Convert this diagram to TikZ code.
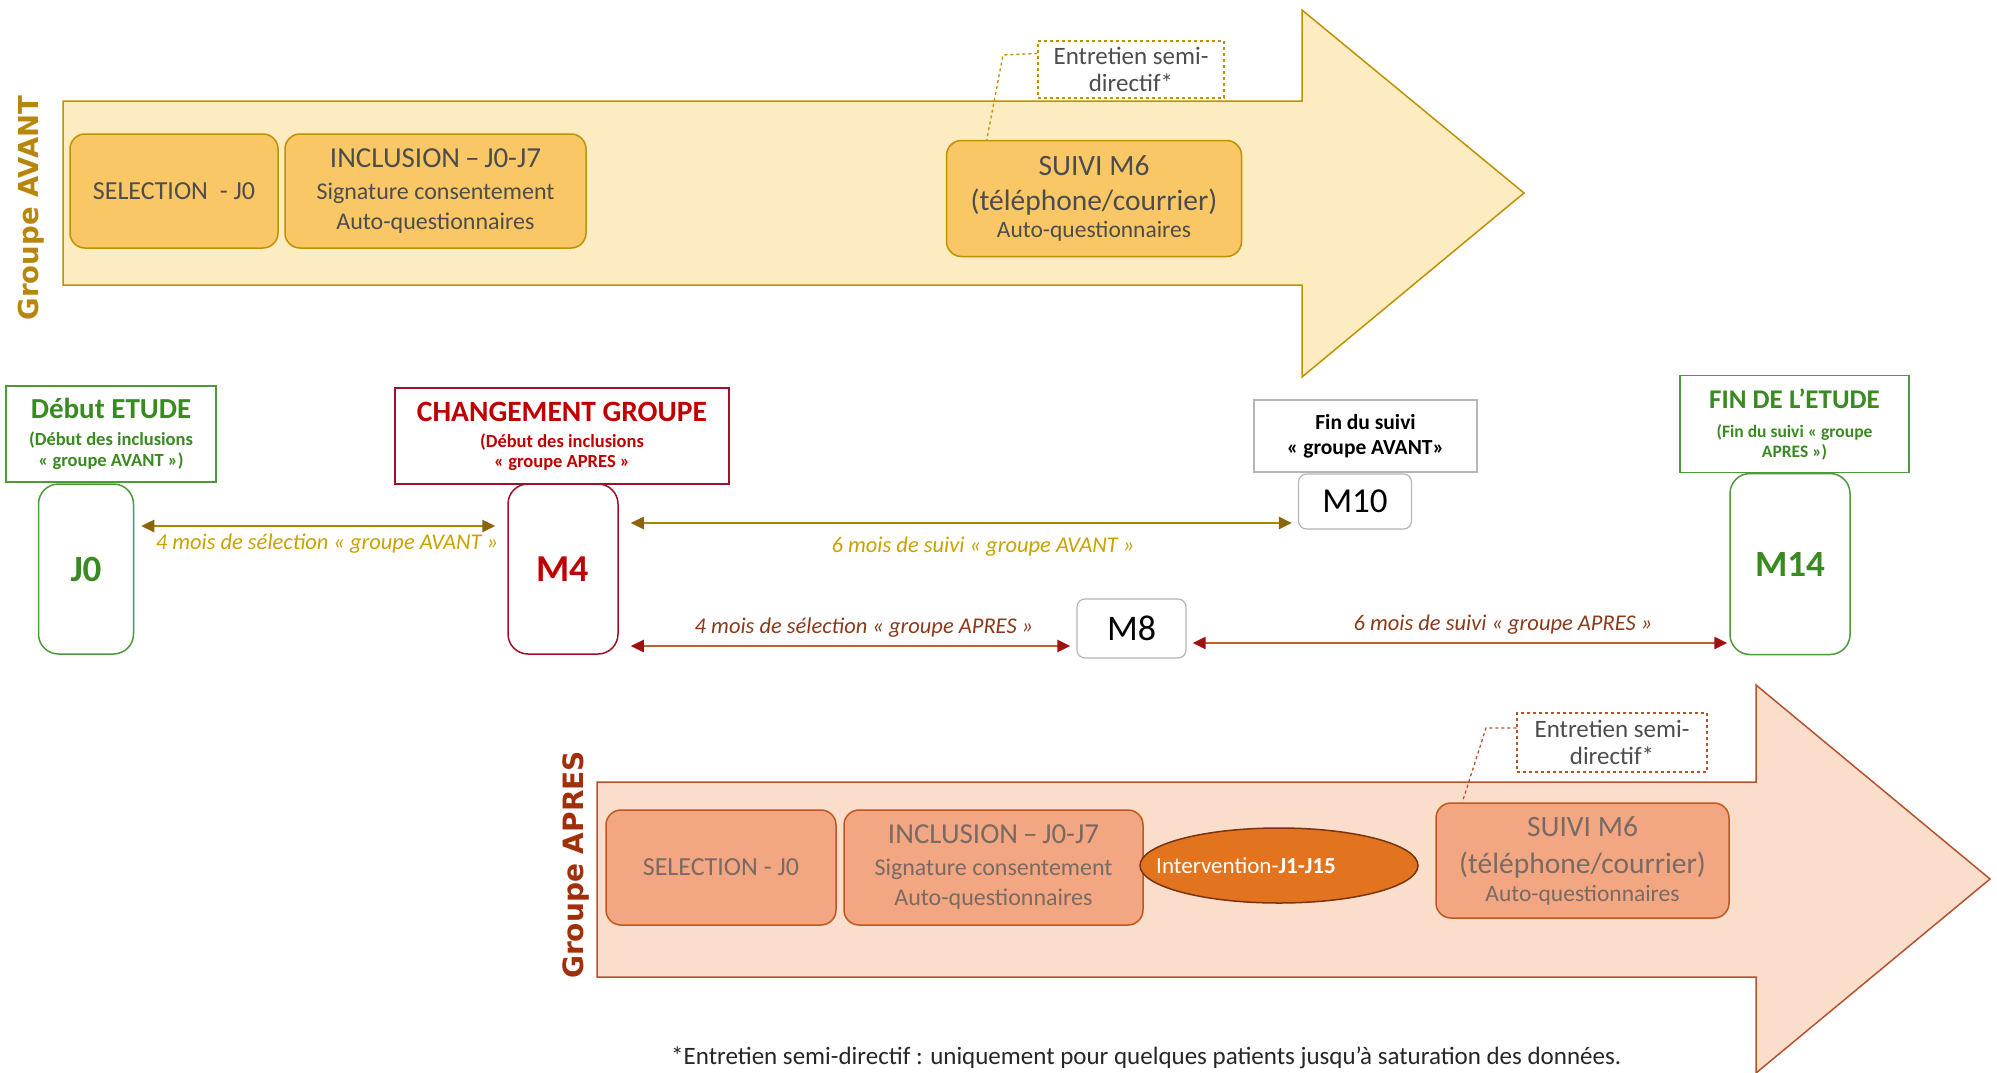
\documentclass[tikz,border=0pt]{standalone}
\usepackage{fontspec}
\setmainfont{Carlito}
\newfontfamily\grpfont{DejaVu Sans}
\usetikzlibrary{arrows.meta,shapes.geometric,calc}
\definecolor{avfill}{HTML}{FDEBC2}
\definecolor{avline}{HTML}{BF9000}
\definecolor{avbox}{HTML}{F9C766}
\definecolor{avtext}{HTML}{B8860B}
\definecolor{avlabel}{HTML}{C9A200}
\definecolor{avarr}{HTML}{A88600}
\definecolor{avtip}{HTML}{8B6508}
\definecolor{apfill}{HTML}{FBDDCC}
\definecolor{apline}{HTML}{B5522B}
\definecolor{apbox}{HTML}{F2A681}
\definecolor{apboxline}{HTML}{C0581E}
\definecolor{aptext}{HTML}{A0300A}
\definecolor{aplabel}{HTML}{8B3A1A}
\definecolor{aparr}{HTML}{C0602E}
\definecolor{aptip}{HTML}{A01010}
\definecolor{ellfill}{HTML}{E2741F}
\definecolor{ellline}{HTML}{7A3510}
\definecolor{grn}{HTML}{3A8A22}
\definecolor{grnline}{HTML}{4E9A3A}
\definecolor{dred}{HTML}{C00000}
\definecolor{dredline}{HTML}{A0102A}
\definecolor{txtdark}{HTML}{4D4D4D}
\definecolor{txtap}{HTML}{7A6A64}
\definecolor{lgray}{HTML}{B5B5B5}
\tikzset{
  avbigbox/.style={draw=avline, fill=avbox, line width=1.5pt, rounded corners=15pt, align=center, text=txtdark, inner sep=0pt},
  apbigbox/.style={draw=apboxline, fill=apbox, line width=1.5pt, rounded corners=15pt, align=center, text=txtap, inner sep=0pt},
  entbox/.style={dashed, line width=1.3pt, fill=white, align=center, text=txtdark, inner sep=0pt, minimum height=57pt},
  tallbox/.style={rounded corners=20pt, line width=1.5pt, fill=white, inner sep=0pt},
  milebox/.style={draw=lgray, rounded corners=8pt, line width=1.2pt, fill=white, inner sep=0pt, text=black},
  hdrbox/.style={line width=1.5pt, fill=white, align=center, inner sep=0pt},
  avarrow/.style={draw=avarr, line width=2.5pt, {Triangle[length=13pt,width=12pt,color=avtip]}-{Triangle[length=13pt,width=12pt,color=avtip]}},
  aparrow/.style={draw=aparr, line width=2.5pt, {Triangle[length=13pt,width=12pt,color=aptip]}-{Triangle[length=13pt,width=12pt,color=aptip]}},
  avlbl/.style={text=avlabel, font=\fontsize{22.5}{26}\selectfont\itshape, inner sep=0pt},
  aplbl/.style={text=aplabel, font=\fontsize{22.5}{26}\selectfont\itshape, inner sep=0pt},
}
\begin{document}
\begin{tikzpicture}[x=1pt,y=-1pt]
\useasboundingbox (0,0) rectangle (1997,1073);
\fill[white] (0,0) rectangle (1997,1073);

% ---------- Groupe AVANT arrow ----------
\draw[avline, fill=avfill, line width=1.5pt, line join=miter]
  (63,101) -- (1302,101) -- (1302,10) -- (1524,193) -- (1302,377) -- (1302,285) -- (63,285) -- cycle;
\node[rotate=90, text=avtext, font=\grpfont\bfseries\fontsize{27.5}{30}\selectfont] (gavant) at (31,208) {Groupe AVANT};

\node[avbigbox, minimum width=208pt, minimum height=114pt, font=\fontsize{26}{30}\selectfont] (sel1) at (174,191) {SELECTION\ \ - J0};
\node[avbigbox, minimum width=301pt, minimum height=114pt, font=\fontsize{24}{30}\selectfont] (incl1) at (435.5,191)
  {{\fontsize{29}{30}\selectfont INCLUSION\,–\,J0-J7}\\[2pt] Signature consentement\\ Auto-questionnaires};
\node[avbigbox, minimum width=295pt, minimum height=116pt, font=\fontsize{23.5}{27}\selectfont] (suivi1) at (1094,198.5)
  {{\fontsize{29.5}{30}\selectfont SUIVI M6}\\[8pt]{\fontsize{29.5}{30}\selectfont (téléphone/courrier)}\\ Auto-questionnaires};
\node[entbox, draw=avline, minimum width=186pt, font=\fontsize{25}{27}\selectfont] (ent1) at (1131,69.5) {Entretien semi-\\directif*};
\coordinate (bend1) at (1003,55);
\draw[avline, dashed, line width=1.3pt] ([yshift=16pt]ent1.west) -- (bend1) -- ($(suivi1.north west)+(41,0)$);

% ---------- Milestones ----------
\node[hdrbox, draw=grnline, text=grn, minimum width=210pt, minimum height=96pt, font=\fontsize{18.5}{21}\selectfont\bfseries] (debut) at (111,434)
  {{\fontsize{29}{30}\selectfont Début ETUDE}\\[6pt](Début des inclusions\\« groupe AVANT »)};
\node[tallbox, draw=grnline, text=grn, minimum width=95pt, minimum height=170pt, font=\fontsize{37}{40}\selectfont\bfseries] (J0) at (86,569) {J0};

\node[hdrbox, draw=dredline, text=dred, minimum width=334pt, minimum height=96pt, font=\fontsize{18.5}{20}\selectfont\bfseries] (chg) at (562,436)
  {{\fontsize{29.5}{30}\selectfont CHANGEMENT GROUPE}\\[6pt](Début des inclusions\\« groupe APRES »};
\node[tallbox, draw=dredline, text=dred, minimum width=110pt, minimum height=170pt, font=\fontsize{38}{40}\selectfont\bfseries] (M4) at (563,569) {M4};

\node[hdrbox, draw=lgray, text=black, minimum width=223pt, minimum height=72pt, font=\fontsize{21.5}{25}\selectfont\bfseries] (fin1) at (1365.5,436)
  {Fin du suivi\\« groupe AVANT»};
\node[milebox, minimum width=113pt, minimum height=55pt, font=\fontsize{35}{38}\selectfont] (M10) at (1355,501.5) {M10};

\node[hdrbox, draw=grnline, text=grn, minimum width=229pt, minimum height=97pt, font=\fontsize{17.5}{20}\selectfont\bfseries] (finet) at (1794.5,424)
  {{\fontsize{27}{30}\selectfont FIN DE L’ETUDE}\\[9pt](Fin du suivi « groupe\\APRES »)};
\node[tallbox, draw=grnline, text=grn, minimum width=120pt, minimum height=181pt, font=\fontsize{37}{40}\selectfont\bfseries] (M14) at (1790,564) {M14};

\node[milebox, minimum width=109pt, minimum height=59pt, font=\fontsize{36}{38}\selectfont] (M8) at (1131.5,628.5) {M8};

% ---------- Period arrows ----------
\draw[avarrow] ($(J0.east |- 0,526)+(7,0)$) -- ($(M4.west |- 0,526)+(-12,0)$);
\node[avlbl] (lab1) at (327,544) {4 mois de sélection « groupe AVANT »};
\draw[avarrow] ($(M4.east |- 0,523)+(12,0)$) -- ($(M10.west |- 0,523)+(-6,0)$);
\node[avlbl] (lab2) at (983,547) {6 mois de suivi « groupe AVANT »};
\draw[aparrow] ($(M4.east |- 0,646)+(12,0)$) -- ($(M8.west |- 0,646)+(-6,0)$);
\node[aplbl] (lab3) at (864,628) {4 mois de sélection « groupe APRES »};
\draw[aparrow] ($(M8.east |- 0,643)+(6,0)$) -- ($(M14.west |- 0,643)+(-2,0)$);
\node[aplbl] (lab4) at (1503,625) {6 mois de suivi « groupe APRES »};

% ---------- Groupe APRES arrow ----------
\draw[apline, fill=apfill, line width=1.5pt, line join=miter]
  (597,782) -- (1756,782) -- (1756,685) -- (1990,879) -- (1756,1073) -- (1756,977) -- (597,977) -- cycle;
\node[rotate=90, text=aptext, font=\grpfont\bfseries\fontsize{28}{30}\selectfont] (gapres) at (576,865) {Groupe APRES};

\node[apbigbox, minimum width=230pt, minimum height=115pt, font=\fontsize{26}{30}\selectfont] (sel2) at (721,867.5) {SELECTION - J0};
\node[apbigbox, minimum width=299pt, minimum height=115pt, font=\fontsize{24}{30}\selectfont] (incl2) at (993.5,867.5)
  {{\fontsize{29}{30}\selectfont INCLUSION\,–\,J0-J7}\\[2pt] Signature consentement\\ Auto-questionnaires};
\node[ellipse, draw=ellline, fill=ellfill, line width=1.5pt, minimum width=278pt, minimum height=75pt, inner sep=0pt] (interv) at (1279,865.5) {};
\node[text=white, font=\fontsize{23}{26}\selectfont, inner sep=0pt] (intervtxt) at ([xshift=-33pt]interv.center) {Intervention-\textbf{J1-J15}};
\node[apbigbox, minimum width=293pt, minimum height=115pt, font=\fontsize{23.5}{28}\selectfont] (suivi2) at (1582.5,860.5)
  {{\fontsize{29.5}{30}\selectfont SUIVI M6}\\[9pt]{\fontsize{29.5}{30}\selectfont (téléphone/courrier)}\\ Auto-questionnaires};
\node[entbox, draw=apline, minimum width=190pt, minimum height=59pt, font=\fontsize{25}{27}\selectfont] (ent2) at (1612,742.5) {Entretien semi-\\directif*};
\coordinate (bend2) at (1486,728);
\draw[apline, dashed, line width=1.3pt] ([yshift=14.5pt]ent2.west) -- (bend2) -- ($(suivi2.north west)+(27,0)$);

% ---------- Footnote ----------
\node[anchor=base west, inner sep=0pt, text=black!85, font=\fontsize{25}{28}\selectfont] (note) at (671,1064)
  {*Entretien semi-directif : uniquement pour quelques patients jusqu’à saturation des données.};
\end{tikzpicture}
\end{document}
